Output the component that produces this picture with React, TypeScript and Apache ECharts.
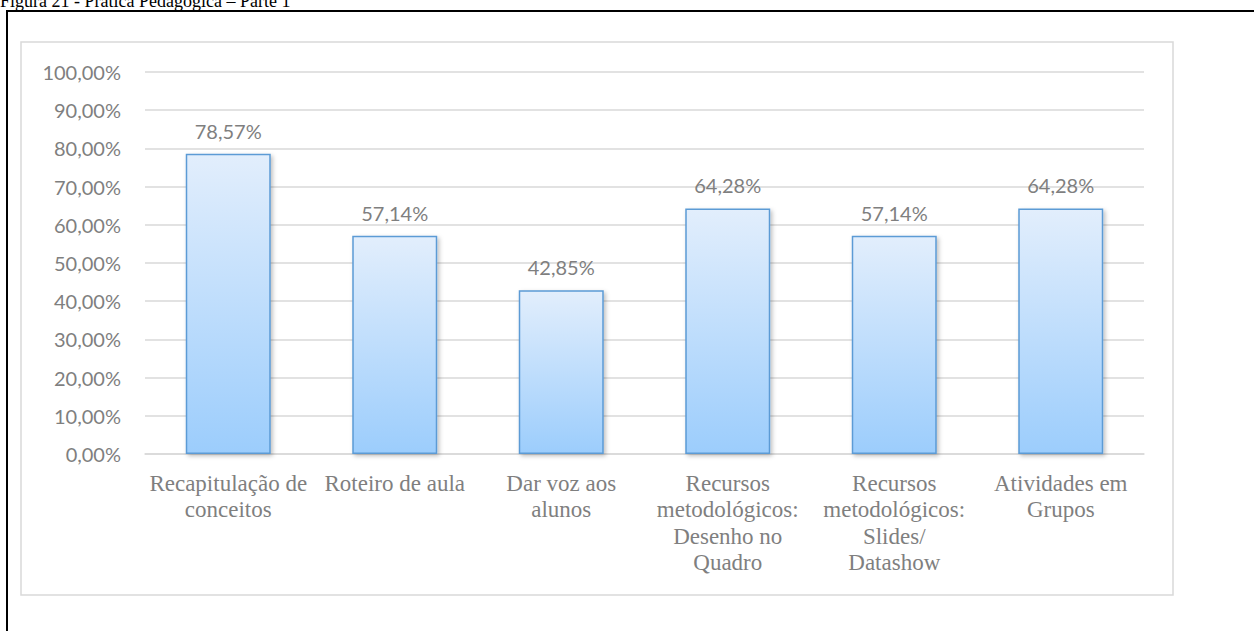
import React, { useEffect, useRef } from "react";
import * as echarts from "echarts";

const categories: string[] = [
  "Recapitulação de\nconceitos",
  "Roteiro de aula",
  "Dar voz aos\nalunos",
  "Recursos\nmetodológicos:\nDesenho no\nQuadro",
  "Recursos\nmetodológicos:\nSlides/\nDatashow",
  "Atividades em\nGrupos",
];
const values: number[] = [78.57, 57.14, 42.85, 64.28, 57.14, 64.28];
const yMin = 0;
const yMax = 100;
const yStep = 10;
const figureTitle = "Figura 21 - Prática Pedagógica – Parte 1";

const pct = (v: number) => v.toFixed(2).replace(".", ",") + "%";

export default function App() {
  const ref = useRef<HTMLDivElement>(null);
  useEffect(() => {
    if (!ref.current) return;
    const chart = echarts.init(ref.current, undefined, { renderer: "svg" });
    chart.setOption({
      animation: false,
      backgroundColor: "#ffffff",
      grid: { left: 145, right: 110, top: 72, bottom: 177, containLabel: false },
      graphic: [
        {
          type: "text",
          x: 0,
          y: 1,
          style: {
            text: figureTitle,
            font: "18px 'Liberation Serif', 'Times New Roman', serif",
            fill: "#000000",
            verticalAlign: "middle",
          },
        },
        {
          type: "rect",
          shape: { x: 7, y: 11, width: 1400, height: 800 },
          style: { fill: "none", stroke: "#000000", lineWidth: 2 },
        },
        {
          type: "rect",
          shape: { x: 21, y: 42, width: 1152, height: 553 },
          style: { fill: "none", stroke: "#d9d9d9", lineWidth: 1.5 },
        },
      ],
      xAxis: {
        type: "category",
        data: categories,
        axisLine: { show: true, lineStyle: { color: "#d9d9d9", width: 1.5 } },
        axisTick: { show: false },
        axisLabel: {
          interval: 0,
          margin: 16,
          color: "#7f7f7f",
          fontFamily: "'Liberation Serif', 'Times New Roman', serif",
          fontSize: 23,
          lineHeight: 26.5,
          align: "center",
        },
      },
      yAxis: {
        type: "value",
        min: yMin,
        max: yMax,
        interval: yStep,
        axisLine: { show: false },
        axisTick: { show: false },
        splitLine: { lineStyle: { color: "#d9d9d9", width: 1.5 } },
        axisLabel: {
          margin: 24,
          color: "#7f7f7f",
          fontFamily: "Lato, 'Open Sans', sans-serif",
          fontSize: 20,
          formatter: (v: number) => pct(v),
        },
      },
      series: [
        {
          type: "bar",
          data: values,
          barWidth: 85,
          itemStyle: {
            color: new echarts.graphic.LinearGradient(0, 0, 0, 1, [
              { offset: 0, color: "#e2eefc" },
              { offset: 1, color: "#9ccdfc" },
            ]),
            borderColor: "#5b9bd5",
            borderWidth: 1.5,
            shadowColor: "rgba(0,0,0,0.25)",
            shadowBlur: 4,
            shadowOffsetX: 2,
            shadowOffsetY: 2,
          },
          label: {
            show: true,
            position: "top",
            distance: 13,
            color: "#7f7f7f",
            fontFamily: "Lato, 'Open Sans', sans-serif",
            fontSize: 20,
            formatter: (p: any) => pct(p.value),
          },
        },
      ],
    });
    return () => chart.dispose();
  }, []);
  return (
    <div
      ref={ref}
      style={{ position: "fixed", left: 0, top: 0, width: 1254, height: 631 }}
    />
  );
}
